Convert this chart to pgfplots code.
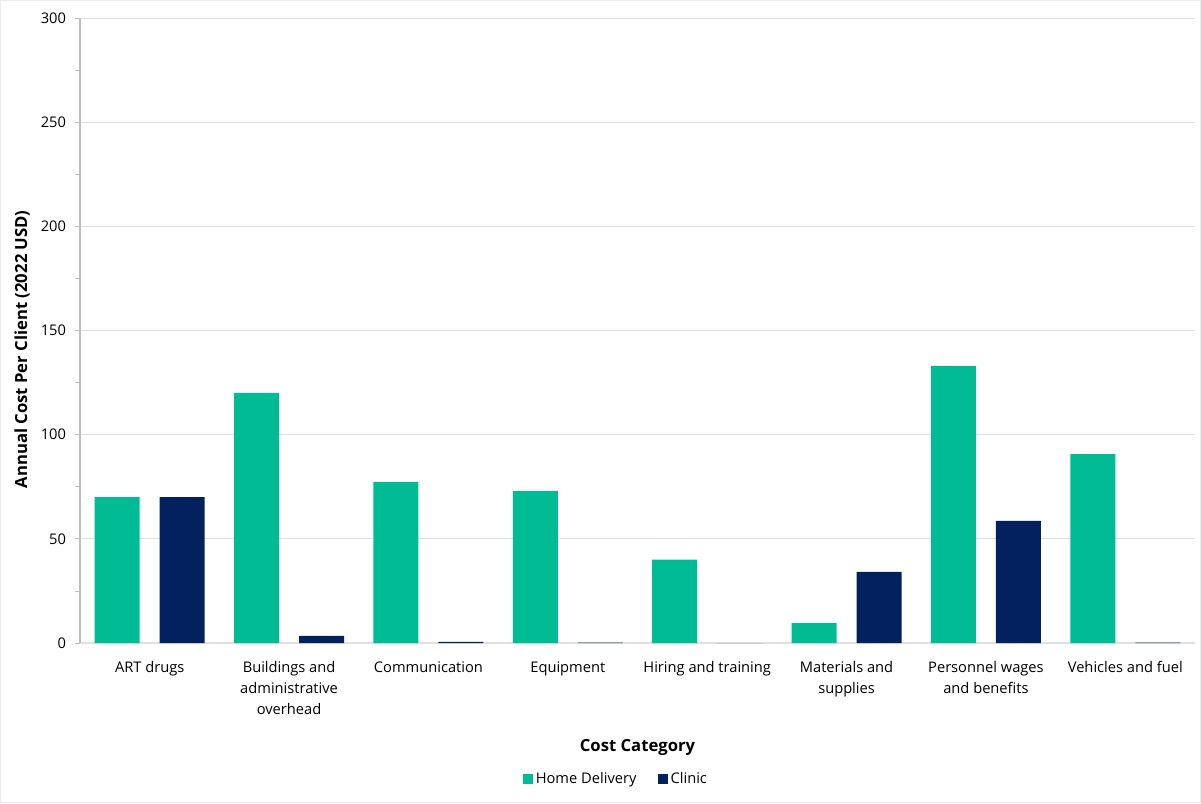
\documentclass[border=0pt]{standalone}
\usepackage{pgfplots}
\pgfplotsset{compat=1.18}
\usepackage{fontspec}
\setmainfont{Open Sans}
\definecolor{homegreen}{RGB}{0,187,148}
\definecolor{clinicnavy}{RGB}{2,33,94}
\definecolor{gridgray}{RGB}{224,224,224}
\definecolor{axgray}{RGB}{190,190,190}
\begin{document}
\begin{tikzpicture}
\draw[use as bounding box, draw=gray!15, line width=0.5pt] (0.25pt,0.25pt) rectangle (900.5pt,602pt);
\begin{axis}[
  at={(60pt,120pt)}, anchor=south west,
  scale only axis, width=836.25pt, height=468.75pt,
  ybar=15pt, bar width=33.75pt,
  xmin=-0.5, xmax=7.5, ymin=0, ymax=300,
  xtick=data,
  xticklabels={ART drugs,{Buildings and\\administrative\\overhead},Communication,Equipment,Hiring and training,{Materials and\\supplies},{Personnel wages\\and benefits},Vehicles and fuel},
  xticklabel style={align=center, font=\fontsize{11}{15.7}\selectfont, yshift=-6.5pt},
  ytick={0,50,...,300},
  minor ytick={25,75,...,275},
  yticklabel style={font=\fontsize{11}{12}\selectfont, xshift=-3pt},
  /pgf/number format/assume math mode=true,
  axis x line*=bottom, axis y line*=left,
  x axis line style={draw=gridgray, line width=0.8pt},
  y axis line style={draw=axgray, line width=0.8pt},
  ymajorgrids, major grid style={draw=gridgray, line width=0.6pt},
  major x tick style={draw=none},
  major y tick style={draw=axgray, line width=0.6pt},
  minor y tick style={draw=axgray, line width=0.6pt},
  tick align=outside, major tick length=4pt, minor tick length=4pt,
  xlabel={\bfseries Cost Category},
  xlabel style={at={(rel axis cs:0.5,0)}, anchor=center, yshift=-78pt, font=\fontsize{12.5}{14}\selectfont},
  ylabel={\bfseries Annual Cost Per Client (2022 USD)},
  ylabel style={at={(rel axis cs:0,0.47)}, anchor=center, yshift=43.5pt, font=\fontsize{12.5}{14}\selectfont},
  legend columns=2,
  legend style={at={(rel axis cs:0.481,0)}, anchor=center, yshift=-102pt, draw=none, fill=none,
    font=\fontsize{11}{12}\selectfont, /tikz/every even column/.append style={column sep=14pt}},
  legend image code/.code={\fill[#1] (0pt,-3.8pt) rectangle (7.6pt,3.8pt);},
]
\addplot[fill=homegreen, draw=none] coordinates {(0,70) (1,120) (2,77.3) (3,73) (4,40) (5,9.6) (6,133) (7,90.7)};
\addplot[fill=clinicnavy, draw=none] coordinates {(0,70) (1,3.4) (2,0.5) (3,0.2) (4,0) (5,34.1) (6,58.6) (7,0.2)};
\legend{Home Delivery,Clinic}
\end{axis}
\end{tikzpicture}
\end{document}
